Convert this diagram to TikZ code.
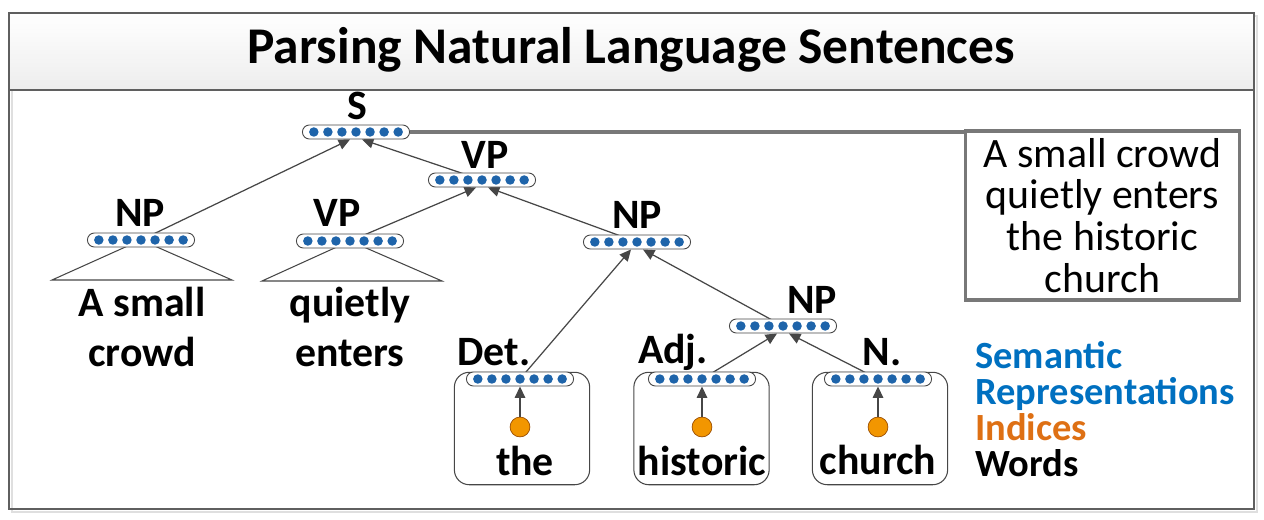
\documentclass[tikz,border=0pt]{standalone}
\usepackage{fontspec}
\setmainfont{Carlito}
\usetikzlibrary{arrows.meta,backgrounds}

\definecolor{dotblue}{RGB}{30,100,170}
\definecolor{dotorange}{RGB}{242,150,0}
\definecolor{legblue}{RGB}{0,112,192}
\definecolor{legorange}{RGB}{222,112,20}
\definecolor{edgegray}{RGB}{70,70,70}
\definecolor{framegray}{RGB}{95,95,95}
\definecolor{sentgray}{RGB}{120,120,120}

\tikzset{
  vec/.style={draw=edgegray, fill=white, rounded corners=4pt, minimum width=61pt,
    minimum height=8pt, inner sep=0pt, line width=0.5pt},
  lab/.style={font=\bfseries\fontsize{23.8}{28.3}\selectfont, inner sep=0pt, align=center},
  arr/.style={draw=edgegray, line width=0.7pt, -{Triangle[length=6.5pt,width=6pt]}},
  tri/.style={draw=edgegray, line width=0.6pt},
  idx/.style={circle, draw=orange!60!black, fill=dotorange, minimum size=11.3pt, inner sep=0pt, line width=0.4pt},
  wbox/.style={draw=edgegray, rounded corners=8.5pt, minimum width=77pt, minimum height=64pt, line width=0.6pt}
}

% one vector of 7 units
\newcommand{\repvec}[2]{%
  \node[vec] (#1) at (#2) {};
  \foreach \k in {-3,...,3}
    \fill[dotblue] ([xshift=\k*8pt]#1.center) circle (2.7pt);
}

\begin{document}
\begin{tikzpicture}[x=0.02cm, y=-0.02cm]
\useasboundingbox (0,0) rectangle (1264,520);

% frame and title
\draw[gray!25, line width=1.5pt] (12,16) rectangle (1257,512);
\shade[top color=white, bottom color=gray!14] (9,13) rectangle (1254,90);
\draw[framegray, line width=1.2pt] (9,13) rectangle (1254,509);
\draw[framegray, line width=1.2pt] (9,90) -- (1254,90);
\node[font=\bfseries\fontsize{29.3}{34}\selectfont] (title) at (631,50) {Parsing Natural Language Sentences};

% vectors
\repvec{s}{356,132}
\repvec{vp}{482,180}
\repvec{np1}{141,240}
\repvec{vp1}{350,241}
\repvec{np2}{637,242}
\repvec{np3}{783,326}

% word boxes
\node[wbox] (detbox) at (522,428.5) {};
\node[wbox] (adjbox) at (701.5,428.5) {};
\node[wbox] (nbox) at (880,428.5) {};
\repvec{det}{520,379}
\repvec{adj}{702,379}
\repvec{n}{878,379}
\node[idx] (the-i) at (520,427) {};
\node[idx] (historic-i) at (702,427) {};
\node[idx] (church-i) at (878,427) {};
\node[lab] (the) at (525,461) {the};
\node[lab] (historic) at (702,461) {historic};
\node[lab] (church) at (878,460) {church};

% labels
\node[lab] (s-l) at (357,106) {S};
\node[lab] (vp-l) at (485,155) {VP};
\node[lab] (np1-l) at (140,213) {NP};
\node[lab] (vp1-l) at (337,213) {VP};
\node[lab] (np2-l) at (637,215) {NP};
\node[lab] (np3-l) at (812,300) {NP};
\node[lab] (det-l) at (494,352) {Det.};
\node[lab] (adj-l) at (673,352) {Adj.};
\node[lab] (n-l) at (882,352) {N.};
\node[lab] (crowd) at (142,327) {A small\\crowd};
\node[lab] (enters) at (350,327) {quietly\\enters};

% sentence box
\node[draw=sentgray, line width=2.2pt, minimum width=155.9pt, minimum height=95.8pt,
  align=center, inner sep=0pt, font=\fontsize{23.8}{23.8}\selectfont] (sent) at (1102.5,215.5)
  {A small crowd\\quietly enters\\the historic\\church};
\draw[sentgray, line width=2.2pt] (s.east) -- (s.east -| sent.west);

% legend
\node[anchor=west, align=left, inner sep=0pt, font=\bfseries\fontsize{21.9}{20.4}\selectfont] (legend) at (975,409)
  {\textcolor{legblue}{Semantic}\\\textcolor{legblue}{Representations}\\\textcolor{legorange}{Indices}\\Words};

\begin{pgfonlayer}{background}
\draw[tri] (np1.center) -- (52,280) -- (232,280) -- cycle;
\draw[tri] (vp1.center) -- (262,281) -- (442,281) -- cycle;
\draw[arr] (np1.center) -- ([xshift=-3.4pt]s.south);
\draw[arr] (vp.center) -- ([xshift=3.4pt]s.south);
\draw[arr] (vp1.center) -- ([xshift=-3.4pt]vp.south);
\draw[arr] (np2.center) -- ([xshift=3.4pt]vp.south);
\draw[arr] (det.center) -- ([xshift=-3.4pt]np2.south);
\draw[arr] (np3.center) -- ([xshift=3.4pt]np2.south);
\draw[arr] (adj.center) -- ([xshift=-3.4pt]np3.south);
\draw[arr] (n.center) -- ([xshift=3.4pt]np3.south);
\end{pgfonlayer}
\draw[arr] (the-i) -- (det.south);
\draw[arr] (historic-i) -- (adj.south);
\draw[arr] (church-i) -- (n.south);
\end{tikzpicture}
\end{document}
